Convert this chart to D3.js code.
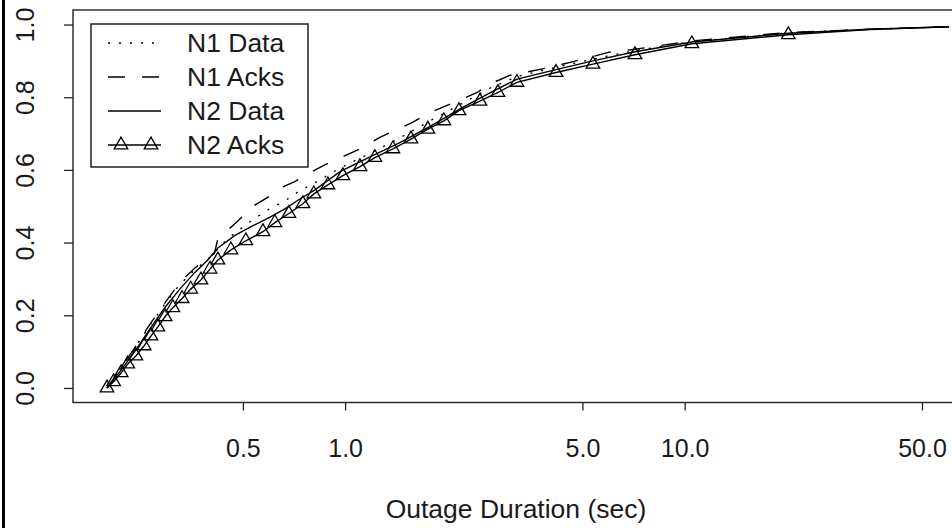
<!DOCTYPE html>
<html>
<head>
<meta charset="utf-8">
<script src="https://cdn.jsdelivr.net/npm/d3@7"></script>
<style>
body { margin: 0; background: #fff; }
svg text { font-family: "Liberation Sans", Arial, sans-serif; font-size: 25px; fill: #1a1a1a; }
svg text.big { font-size: 26.5px; }
</style>
</head>
<body>
<div id="chart"></div>
<script>
// tick values
var xTicks = [0.5, 1, 5, 10, 50];
var yTicks = [0, 0.2, 0.4, 0.6, 0.8, 1.0];
var seriesNames = ["N1 Data", "N1 Acks", "N2 Data", "N2 Acks"];

// [duration (sec), cumulative fraction]
var n1Data = [[0.199, 0], [0.217, 0.05], [0.240, 0.11], [0.266, 0.172], [0.295, 0.232], [0.326, 0.285],
    [0.361, 0.325], [0.392, 0.352], [0.42, 0.38], [0.45, 0.41], [0.52, 0.455], [0.587, 0.488],
    [0.665, 0.515], [0.736, 0.543], [0.815, 0.565], [0.966, 0.605], [1.18, 0.645], [1.45, 0.688],
    [1.78, 0.735], [2.18, 0.78], [2.67, 0.825], [3.21, 0.857], [4.18, 0.882], [5.37, 0.905],
    [7.14, 0.928], [10.5, 0.953], [20.2, 0.977], [35, 0.987], [60, 0.994]];

var n1Acks = [[0.199, 0], [0.217, 0.05], [0.240, 0.11], [0.266, 0.175], [0.295, 0.235], [0.326, 0.29],
    [0.361, 0.33], [0.392, 0.355], [0.412, 0.37], [0.422, 0.41], [0.484, 0.46], [0.535, 0.50],
    [0.593, 0.525], [0.643, 0.55], [0.711, 0.568], [0.79, 0.593], [0.88, 0.616], [1.0, 0.639],
    [1.1, 0.657], [1.27, 0.69], [1.58, 0.731], [1.78, 0.758], [1.99, 0.777], [2.15, 0.79],
    [2.45, 0.813], [2.67, 0.836], [3.05, 0.86], [3.42, 0.869], [4.0, 0.882], [4.6, 0.896],
    [5.26, 0.91], [6.0, 0.924], [7.14, 0.932], [10.5, 0.955], [20.2, 0.978], [35, 0.987], [60, 0.994]];

var n2Data = [[0.199, 0], [0.217, 0.045], [0.240, 0.10], [0.266, 0.162], [0.295, 0.222], [0.326, 0.272],
    [0.361, 0.318], [0.392, 0.35], [0.422, 0.385], [0.474, 0.42], [0.532, 0.445], [0.601, 0.47],
    [0.665, 0.493], [0.736, 0.52], [0.815, 0.545], [0.966, 0.595], [1.18, 0.635], [1.45, 0.675],
    [1.78, 0.72], [2.18, 0.768], [2.67, 0.812], [3.21, 0.85], [4.18, 0.876], [5.37, 0.9],
    [7.14, 0.925], [10.5, 0.952], [20.2, 0.976], [35, 0.987], [60, 0.994]];

// points carrying a triangle marker
var n2Acks = [[0.199, 0], [0.208, 0.017], [0.219, 0.042], [0.229, 0.066], [0.242, 0.088], [0.256, 0.116],
    [0.268, 0.143], [0.281, 0.168], [0.295, 0.196], [0.311, 0.221], [0.331, 0.246], [0.351, 0.272],
    [0.376, 0.297], [0.400, 0.327], [0.422, 0.352], [0.461, 0.38], [0.510, 0.405], [0.573, 0.43],
    [0.621, 0.455], [0.683, 0.48], [0.751, 0.507], [0.809, 0.534], [0.890, 0.559], [0.985, 0.584],
    [1.106, 0.609], [1.224, 0.634], [1.383, 0.658], [1.563, 0.685], [1.753, 0.712], [1.954, 0.735],
    [2.164, 0.763], [2.495, 0.789], [2.819, 0.813], [3.207, 0.841], [4.18, 0.868], [5.37, 0.891],
    [7.14, 0.917], [10.5, 0.947], [20.2, 0.972]];
var n2AcksTail = [[35, 0.986], [60, 0.994]];

var width = 952, height = 528;
var plot = { left: 73, right: 990, top: 10, bottom: 402.5 };

var svg = d3.select("#chart")
    .append("svg")
    .attr("width", width)
    .attr("height", height);

var x = d3.scaleLog()
    .domain([0.158, 79.3])
    .range([plot.left, plot.right]);

var y = d3.scaleLinear()
    .domain([-0.04, 1.04])
    .range([plot.bottom, plot.top]);

svg.append("clipPath")
    .attr("id", "clip")
    .append("rect")
    .attr("x", plot.left)
    .attr("y", plot.top)
    .attr("width", plot.right - plot.left)
    .attr("height", plot.bottom - plot.top);

var line = d3.line()
    .x(function (d) { return x(d[0]) })
    .y(function (d) { return y(d[1]) });

var curves = svg.append("g").attr("clip-path", "url(#clip)");

var styles = [
    { data: n1Data, dash: "2,9" },
    { data: n1Acks, dash: "17,17" },
    { data: n2Data, dash: null },
    { data: n2Acks.concat(n2AcksTail), dash: null }
];

styles.forEach(function (s) {
    curves.append("path")
        .attr("d", line(s.data))
        .attr("fill", "none")
        .attr("stroke", "#000")
        .attr("stroke-width", 1.4)
        .attr("stroke-dasharray", s.dash);
});

var tri = d3.symbol().type(d3.symbolTriangle).size(80);

curves.selectAll(".mark")
    .data(n2Acks)
    .enter()
    .append("path")
    .attr("class", "mark")
    .attr("d", tri)
    .attr("transform", function (d) { return "translate(" + x(d[0]) + "," + y(d[1]) + ")" })
    .attr("fill", "none")
    .attr("stroke", "#000")
    .attr("stroke-width", 1.3);

// box
svg.append("rect")
    .attr("x", plot.left)
    .attr("y", plot.top)
    .attr("width", plot.right - plot.left)
    .attr("height", plot.bottom - plot.top)
    .attr("fill", "none")
    .attr("stroke", "#222")
    .attr("stroke-width", 1.4);

// axes
var xAxis = svg.append("g")
    .attr("transform", "translate(0," + plot.bottom + ")")
    .call(d3.axisBottom(x)
        .tickValues(xTicks)
        .tickFormat(d3.format(".1f"))
        .tickSize(8)
        .tickPadding(29));
xAxis.select(".domain").remove();
xAxis.selectAll("line").attr("stroke", "#222").attr("stroke-width", 1.3);
xAxis.selectAll("text").attr("fill", "#1a1a1a").attr("font-size", null).attr("font-family", null);

var yAxis = svg.append("g")
    .attr("transform", "translate(" + plot.left + ",0)")
    .call(d3.axisLeft(y)
        .tickValues(yTicks)
        .tickFormat(d3.format(".1f"))
        .tickSize(9));
yAxis.select(".domain").remove();
yAxis.selectAll("line").attr("stroke", "#222").attr("stroke-width", 1.3);
yAxis.selectAll("text")
    .attr("x", 0)
    .attr("dy", null)
    .attr("text-anchor", "middle")
    .attr("transform", "translate(" + (34 - plot.left) + ",0) rotate(-90)")
    .attr("fill", "#1a1a1a")
    .attr("font-size", null)
    .attr("font-family", null);

svg.append("text")
    .attr("class", "big")
    .attr("x", 516)
    .attr("y", 518)
    .attr("text-anchor", "middle")
    .text("Outage Duration (sec)");

// legend
var legend = svg.append("g");
legend.append("rect")
    .attr("x", 91)
    .attr("y", 24)
    .attr("width", 217)
    .attr("height", 143)
    .attr("fill", "#fff")
    .attr("stroke", "#111")
    .attr("stroke-width", 1.4);

var rows = legend.selectAll(".row")
    .data(seriesNames)
    .enter()
    .append("g")
    .attr("class", "row")
    .attr("transform", function (d, i) { return "translate(0," + (43 + i * 34) + ")" });

rows.append("line")
    .attr("x1", 108)
    .attr("x2", 161)
    .attr("stroke", "#000")
    .attr("stroke-width", 1.4)
    .attr("stroke-dasharray", function (d, i) { return styles[i].dash });

rows.append("text")
    .attr("class", "big")
    .attr("x", 187)
    .attr("y", 9)
    .text(function (d) { return d });

rows.filter(function (d, i) { return i == 3 })
    .selectAll(".lm")
    .data([121, 151])
    .enter()
    .append("path")
    .attr("d", tri)
    .attr("transform", function (d) { return "translate(" + d + ",0)" })
    .attr("fill", "none")
    .attr("stroke", "#000")
    .attr("stroke-width", 1.3);

// figure frame edge on the left
svg.append("rect")
    .attr("x", 2)
    .attr("y", 0)
    .attr("width", 3)
    .attr("height", height)
    .attr("fill", "#000");
</script>
</body>
</html>
